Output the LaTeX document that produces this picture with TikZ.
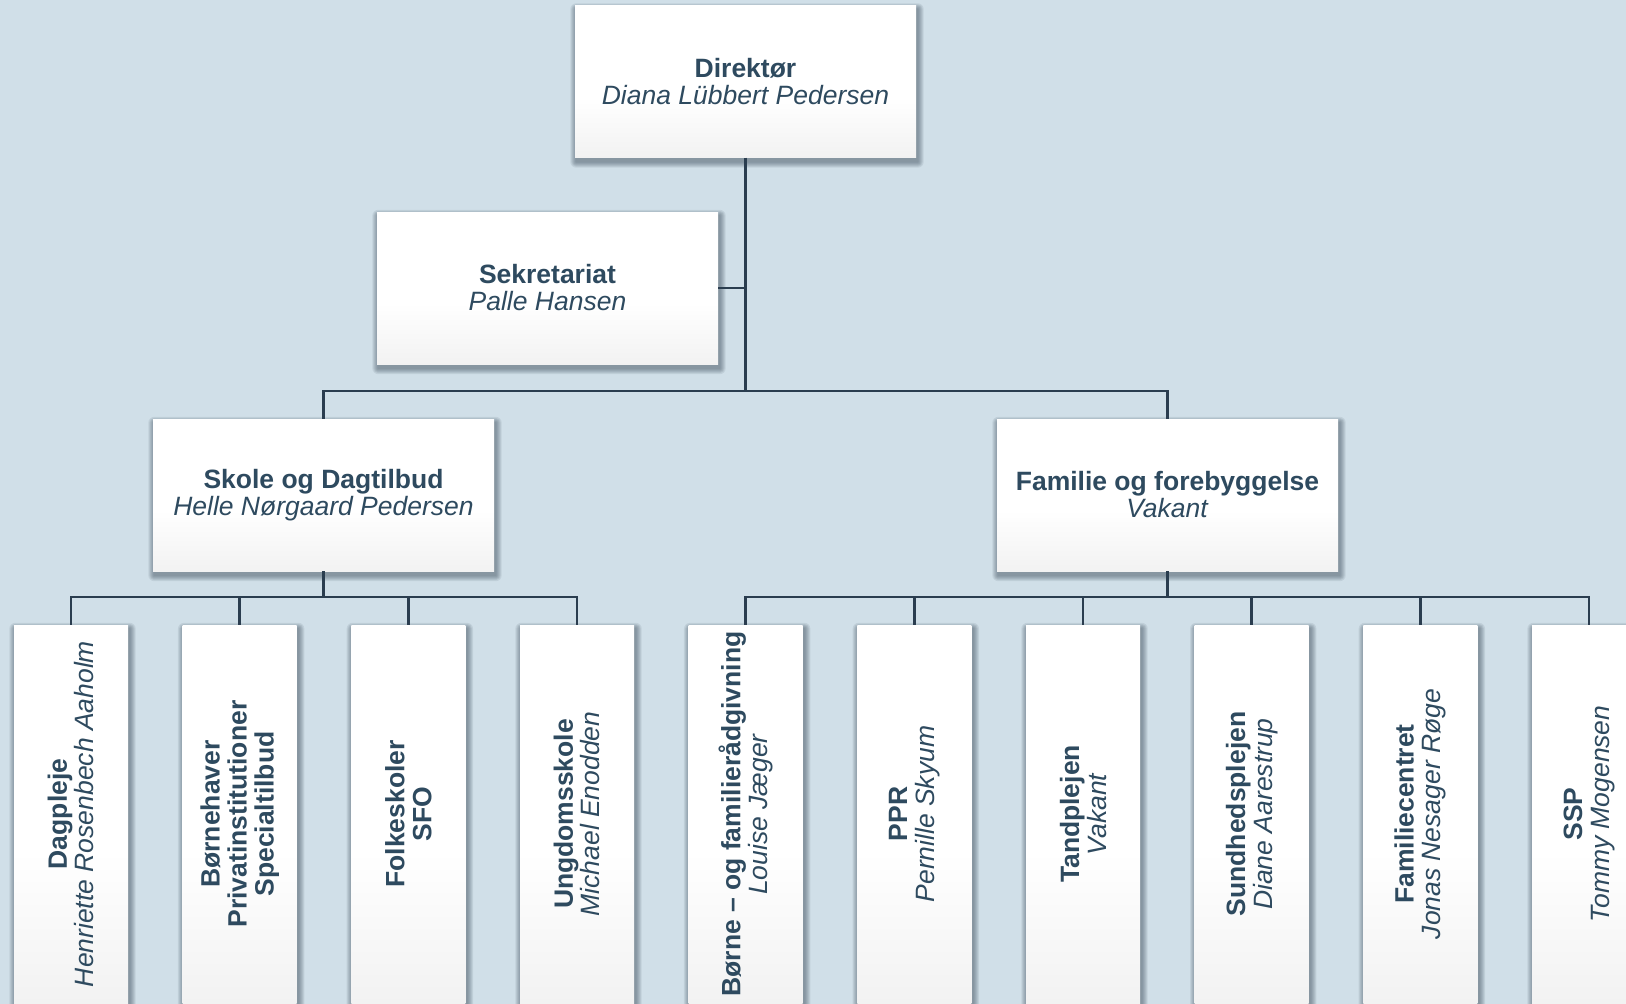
\documentclass[tikz,border=0pt]{standalone}
\usepackage{fontspec}
\setmainfont{Liberation Sans}
\definecolor{bgc}{HTML}{D0DFE8}
\definecolor{txtc}{HTML}{2E4A5F}
\definecolor{linec}{HTML}{2A3D4F}
\definecolor{shadebot}{HTML}{E2E2E2}
\definecolor{shadowc}{HTML}{3A4A58}
\pgfdeclareverticalshading{boxshade}{100bp}{color(0bp)=(shadebot); color(45bp)=(white); color(100bp)=(white)}
\pgfdeclarelayer{backlayer}
\pgfdeclarelayer{shadowlayer}
\pgfsetlayers{backlayer,shadowlayer,main}
\newcommand\orgfont{\fontsize{26.5}{27}\selectfont}
\newcommand\softshadow[1]{%
  \begin{pgfonlayer}{shadowlayer}
  \foreach \k in {1,...,6} {
    \fill[shadowc, opacity=0.1, rounded corners={\k pt}]
      ([shift={({1.5-\k},{4-\k})}]#1.north west) rectangle ([shift={({1.5+\k},{4+\k})}]#1.south east);
  }
  \end{pgfonlayer}}
\tikzset{
  orgbox/.style={draw=none, shading=boxshade, inner sep=0pt},
  lvlbox/.style={orgbox, minimum width=341pt, minimum height=152pt},
  colbox/.style={orgbox, minimum width=114pt, minimum height=378pt},
  htext/.style={align=center, text=txtc, font=\orgfont, inner sep=0pt},
  vtext/.style={htext, rotate=90},
  conn/.style={draw=linec, line width=2.7pt}
}
\begin{document}
\begin{tikzpicture}[x=1pt,y=-1pt]
\clip (0,0) rectangle (1626,1004);
\begin{pgfonlayer}{backlayer}
\fill[bgc] (0,0) rectangle (1626,1004);
\end{pgfonlayer}

\node[lvlbox] (d) at (745.5,81.5) {};
\node[lvlbox] (s) at (547.5,288) {};
\node[lvlbox] (sk) at (323.5,495) {};
\node[lvlbox] (f) at (1167.5,495) {};
\softshadow{d}\softshadow{s}\softshadow{sk}\softshadow{f}
\node[htext] (td) at (d) {\textbf{Direktør}\\\textit{Diana Lübbert Pedersen}};
\node[htext] (ts) at (s) {\textbf{Sekretariat}\\\textit{Palle Hansen}};
\node[htext] (tsk) at (sk) {\textbf{Skole og Dagtilbud}\\\textit{Helle Nørgaard Pedersen}};
\node[htext] (tf) at (f) {\textbf{Familie og forebyggelse}\\\textit{Vakant}};

\foreach \i in {1,...,10} {
  \node[colbox] (b\i) at ({71+168.67*(\i-1)},814) {};
  \softshadow{b\i}
}
\node[vtext] (t1) at (b1) {\textbf{Dagpleje}\\\textit{Henriette Rosenbech Aaholm}};
\node[vtext] (t2) at (b2) {\textbf{Børnehaver}\\\textbf{Privatinstitutioner}\\\textbf{Specialtilbud}};
\node[vtext] (t3) at (b3) {\textbf{Folkeskoler}\\\textbf{SFO}};
\node[vtext] (t4) at (b4) {\textbf{Ungdomsskole}\\\textit{Michael Enodden}};
\node[vtext] (t5) at (b5) {\textbf{Børne – og familierådgivning}\\\textit{Louise Jæger}};
\node[vtext] (t6) at (b6) {\textbf{PPR}\\\textit{Pernille Skyum}};
\node[vtext] (t7) at (b7) {\textbf{Tandplejen}\\\textit{Vakant}};
\node[vtext] (t8) at (b8) {\textbf{Sundhedsplejen}\\\textit{Diane Aarestrup}};
\node[vtext] (t9) at (b9) {\textbf{Familiecentret}\\\textit{Jonas Nesager Røge}};
\node[vtext] (t10) at (b10) {\textbf{SSP}\\\textit{Tommy Mogensen}};

\coordinate (j1) at (745.5,391);
\coordinate (j2) at (323.5,597);
\coordinate (j3) at (1167.5,597);

\draw[conn] (d.south) -- (j1);
\draw[conn] (s.east) -- (s.east -| d.south);
\draw[conn] (sk.north) |- (j1) -| (f.north);

\draw[conn] (sk.south) -- (j2);
\draw[conn] (b1.north) |- (j2) -| (b4.north);
\draw[conn] (b2.north) -- (b2.north |- j2);
\draw[conn] (b3.north) -- (b3.north |- j2);

\draw[conn] (f.south) -- (j3);
\draw[conn] (b5.north) |- (j3) -| (b10.north);
\foreach \i in {6,...,9} {
  \draw[conn] (b\i.north) -- (b\i.north |- j3);
}
\end{tikzpicture}
\end{document}
